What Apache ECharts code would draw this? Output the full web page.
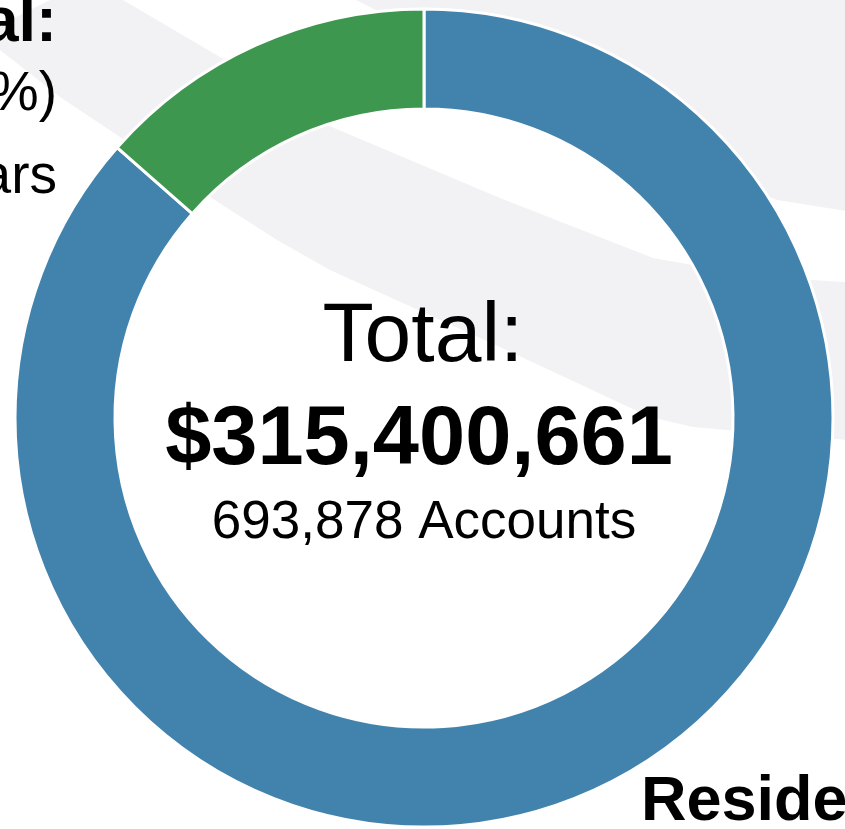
<!DOCTYPE html>
<html>
<head>
<meta charset="utf-8">
<script src="https://cdn.jsdelivr.net/npm/echarts@6/dist/echarts.min.js"></script>
<style>
html, body { margin: 0; padding: 0; background: #fff; }
#donut { width: 845px; height: 829px; }
</style>
</head>
<body>
<div id="donut"></div>
<script>
var categories = ['Residential', 'Commercial'];
var dollarValues = [272821572, 42579089];
var accountValues = [631428, 62450];
var sliceColors = ['#4283ae', '#3e974e'];

var FONT = '"Liberation Sans", Arial, sans-serif';
var totalDollars = dollarValues.reduce(function (a, b) { return a + b; }, 0);
var totalAccounts = accountValues.reduce(function (a, b) { return a + b; }, 0);

function fmt(n) { return n.toLocaleString('en-US'); }

/** background swooshes **/
var bandA = [[90, -20], [123, 0], [220, 57], [327, 125], [500, 198], [653, 258], [760, 277], [860, 283],
    [860, 441], [760, 433], [693, 427], [650, 417], [500, 347], [330, 270], [277, 240], [210, 197],
    [120, 137], [60, 97], [0, 50], [-20, 35]];
var bandB = [[350, -20], [356, 0], [560, 103], [700, 170], [777, 200], [860, 213], [860, -20]];

var pieData = categories.map(function (c, i) {
    return { name: c, value: dollarValues[i], accounts: accountValues[i] };
});

var option = {
    backgroundColor: '#ffffff',
    animation: false,
    graphic: [
        { type: 'polygon', z: 0, silent: true, shape: { points: bandA }, style: { fill: '#f2f2f4' } },
        { type: 'polygon', z: 0, silent: true, shape: { points: bandB }, style: { fill: '#f2f2f4' } },
        // centre texts built from the totals
        { type: 'text', z: 10, x: 423, y: 338, style: { text: 'Total:', font: 'normal 84px ' + FONT, fill: '#000', align: 'center', verticalAlign: 'middle' } },
        { type: 'text', z: 10, x: 419, y: 441, style: { text: '$' + fmt(totalDollars), font: 'bold 83px ' + FONT, fill: '#000', align: 'center', verticalAlign: 'middle' } },
        { type: 'text', z: 10, x: 424, y: 523, style: { text: fmt(totalAccounts) + ' Accounts', font: 'normal 53px ' + FONT, fill: '#000', align: 'center', verticalAlign: 'middle' } }
    ],
    series: [{
        type: 'pie',
        z: 2,
        center: [424, 418],
        radius: [309, 409],
        startAngle: 90,
        clockwise: true,
        avoidLabelOverlap: false,
        color: sliceColors,
        itemStyle: { borderColor: '#ffffff', borderWidth: 3 },
        labelLine: { show: false },
        label: {
            show: true,
            position: 'outside',
            formatter: function (p) {
                var acc = p.data.accounts;
                return '{n|' + p.name + ':}\n{v|' + fmt(acc) + ' Accounts (' + Math.round(acc / totalAccounts * 100) + '%)}\n{w|' +
                    (p.value / totalDollars * 100).toFixed(1) + '% of Dollars}';
            },
            rich: {
                n: { fontFamily: FONT, fontWeight: 'bold', fontSize: 63, lineHeight: 70, color: '#000' },
                v: { fontFamily: FONT, fontSize: 55, lineHeight: 72, color: '#000' },
                w: { fontFamily: FONT, fontSize: 55, lineHeight: 94, color: '#000' }
            }
        },
        labelLayout: function (params) {
            if (params.dataIndex === 1) {
                return { x: 57, y: -11, align: 'right', verticalAlign: 'top' };
            }
            return { x: 641, y: 768, align: 'left', verticalAlign: 'top' };
        },
        data: pieData
    }]
};

var myEcharts = echarts.init(document.getElementById('donut'));
myEcharts.setOption(option);
</script>
</body>
</html>
